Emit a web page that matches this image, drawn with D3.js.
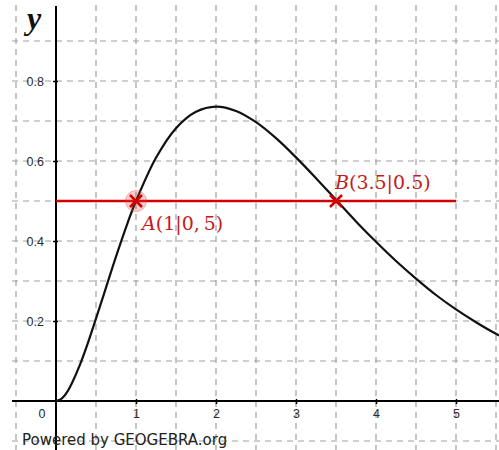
<!DOCTYPE html>
<html>
<head>
<meta charset="utf-8">
<script src="https://cdn.jsdelivr.net/npm/d3@7"></script>
<style>
  html, body { margin: 0; padding: 0; background: #fff; }
  svg { display: block; }
</style>
</head>
<body>
<svg id="chart" width="499" height="450"></svg>
<script>
// ---- data ----
const curveX = [0, 0.05, 0.1, 0.15, 0.2, 0.3, 0.4, 0.5, 0.6, 0.75, 0.9, 1, 1.25, 1.5, 1.75, 2, 2.25, 2.5, 2.75, 3, 3.25, 3.5, 3.75, 4, 4.25, 4.5, 4.75, 5, 5.25, 5.5, 5.6];
const curveY = [0, 0.003, 0.012, 0.026, 0.045, 0.091, 0.146, 0.206, 0.268, 0.361, 0.448, 0.5, 0.608, 0.682, 0.723, 0.736, 0.725, 0.697, 0.657, 0.609, 0.557, 0.503, 0.449, 0.398, 0.350, 0.306, 0.265, 0.229, 0.197, 0.168, 0.158];
const lineXs = [0, 5];
const lineY = 0.5;
const pointNames = ["A", "B"];
const pointX = [1, 3.5];
const pointY = [0.5, 0.5];
const pointLabels = [["A", "(1|0,", "5)"], ["B", "(3.5|0.5)", ""]];
const xTicks = [1, 2, 3, 4, 5];
const yTicks = [0.2, 0.4, 0.6, 0.8];
const xGrid = [-0.5, 0.5, 1, 1.5, 2, 2.5, 3, 3.5, 4, 4.5, 5, 5.5];
const yGrid = [-0.1, 0.1, 0.2, 0.3, 0.4, 0.5, 0.6, 0.7, 0.8, 0.9];
const yAxisTitle = "y";
const footer = "Powered by GEOGEBRA.org";

// ---- layout ----
const panel = { left: 12, top: 5, right: 499, bottom: 450 };
const x = d3.scaleLinear().domain([0, 5]).range([56, 456]);
const y = d3.scaleLinear().domain([0, 0.8]).range([401, 81]);

const svg = d3.select("#chart");
const red = "#d00000";
const gridColor = "#a0a0a0";

// grid
const g = svg.append("g");
g.selectAll("line.vg").data(xGrid).join("line")
  .attr("x1", d => x(d)).attr("x2", d => x(d))
  .attr("y1", panel.top).attr("y2", panel.bottom)
  .attr("stroke", gridColor).attr("stroke-width", 1.2)
  .attr("stroke-dasharray", "6,5");
g.selectAll("line.hg").data(yGrid).join("line")
  .attr("y1", d => y(d)).attr("y2", d => y(d))
  .attr("x1", panel.left).attr("x2", panel.right)
  .attr("stroke", gridColor).attr("stroke-width", 1.2)
  .attr("stroke-dasharray", "6,5");

// axes lines
svg.append("line").attr("x1", panel.left).attr("x2", panel.right)
  .attr("y1", y(0)).attr("y2", y(0)).attr("stroke", "#000").attr("stroke-width", 2);
svg.append("line").attr("x1", x(0)).attr("x2", x(0))
  .attr("y1", panel.top + 1).attr("y2", panel.bottom).attr("stroke", "#000").attr("stroke-width", 2);

// axis ticks via d3 axes
const xAxis = d3.axisBottom(x).tickValues(xTicks).tickFormat(d3.format("d"))
  .tickSizeInner(3).tickSizeOuter(0).tickPadding(5);
const xa = svg.append("g").attr("transform", `translate(0,${y(0)})`).call(xAxis);
xa.select(".domain").remove();
xa.selectAll(".tick line").attr("y1", -2).attr("stroke", "#000").attr("stroke-width", 1.5);
xa.selectAll(".tick text").attr("font-family", "Liberation Sans, Arial, sans-serif")
  .attr("font-size", 12.5).attr("fill", "#2a2a2a");

const yAxis = d3.axisLeft(y).tickValues(yTicks).tickFormat(d3.format(".1f"))
  .tickSizeInner(3).tickSizeOuter(0).tickPadding(9);
const ya = svg.append("g").attr("transform", `translate(${x(0)},0)`).call(yAxis);
ya.select(".domain").remove();
ya.selectAll(".tick line").attr("x1", 2).attr("stroke", "#000").attr("stroke-width", 1.5);
ya.selectAll(".tick text").attr("font-family", "Liberation Sans, Arial, sans-serif")
  .attr("font-size", 12.5).attr("fill", "#2a2a2a");

svg.append("text").attr("x", x(0) - 14).attr("y", y(0) + 17)
  .attr("text-anchor", "middle")
  .attr("font-family", "Liberation Sans, Arial, sans-serif").attr("font-size", 12.5)
  .attr("fill", "#2a2a2a").text("0");

// axis title
svg.append("text").attr("x", 27).attr("y", 29)
  .attr("font-family", "Liberation Serif, DejaVu Serif, serif")
  .attr("font-style", "italic").attr("font-weight", "bold")
  .attr("font-size", 32).attr("fill", "#111").text(yAxisTitle);

// curve
const pts = curveX.map((v, i) => [v, curveY[i]]);
svg.append("path").datum(pts)
  .attr("d", d3.line().x(d => x(d[0])).y(d => y(d[1])).curve(d3.curveCatmullRom))
  .attr("fill", "none").attr("stroke", "#111").attr("stroke-width", 2.2);

// red horizontal line
svg.append("line").attr("x1", x(lineXs[0])).attr("x2", x(lineXs[1]))
  .attr("y1", y(lineY)).attr("y2", y(lineY))
  .attr("stroke", red).attr("stroke-width", 2.4);

// point highlight for A
svg.append("circle").attr("cx", x(pointX[0])).attr("cy", y(pointY[0])).attr("r", 10.5)
  .attr("fill", "rgba(230,60,60,0.25)").attr("stroke", "rgba(220,60,60,0.35)").attr("stroke-width", 1);

// crosses
const cs = 6;
pointNames.forEach((n, i) => {
  const cx = x(pointX[i]), cy = y(pointY[i]);
  svg.append("path")
    .attr("d", `M${cx - cs},${cy - cs}L${cx + cs},${cy + cs}M${cx - cs},${cy + cs}L${cx + cs},${cy - cs}`)
    .attr("stroke", red).attr("stroke-width", 2.6).attr("fill", "none");
});

// point labels
const labelPos = [[x(pointX[0]) + 6, y(pointY[0]) + 29], [x(pointX[1]) - 1, y(pointY[1]) - 12]];
pointLabels.forEach((lab, i) => {
  const t = svg.append("text").attr("x", labelPos[i][0]).attr("y", labelPos[i][1])
    .attr("font-family", "DejaVu Serif, serif").attr("font-size", 19)
    .attr("fill", "#c41a1a");
  t.append("tspan").attr("font-style", "italic").text(lab[0]);
  t.append("tspan").text(lab[1]);
  if (lab[2]) t.append("tspan").attr("dx", 4).text(lab[2]);
});

// footer
svg.append("text").attr("x", 22).attr("y", 445)
  .attr("font-family", "DejaVu Sans, Verdana, sans-serif").attr("font-size", 15)
  .attr("fill", "#222").text(footer);
</script>
</body>
</html>
